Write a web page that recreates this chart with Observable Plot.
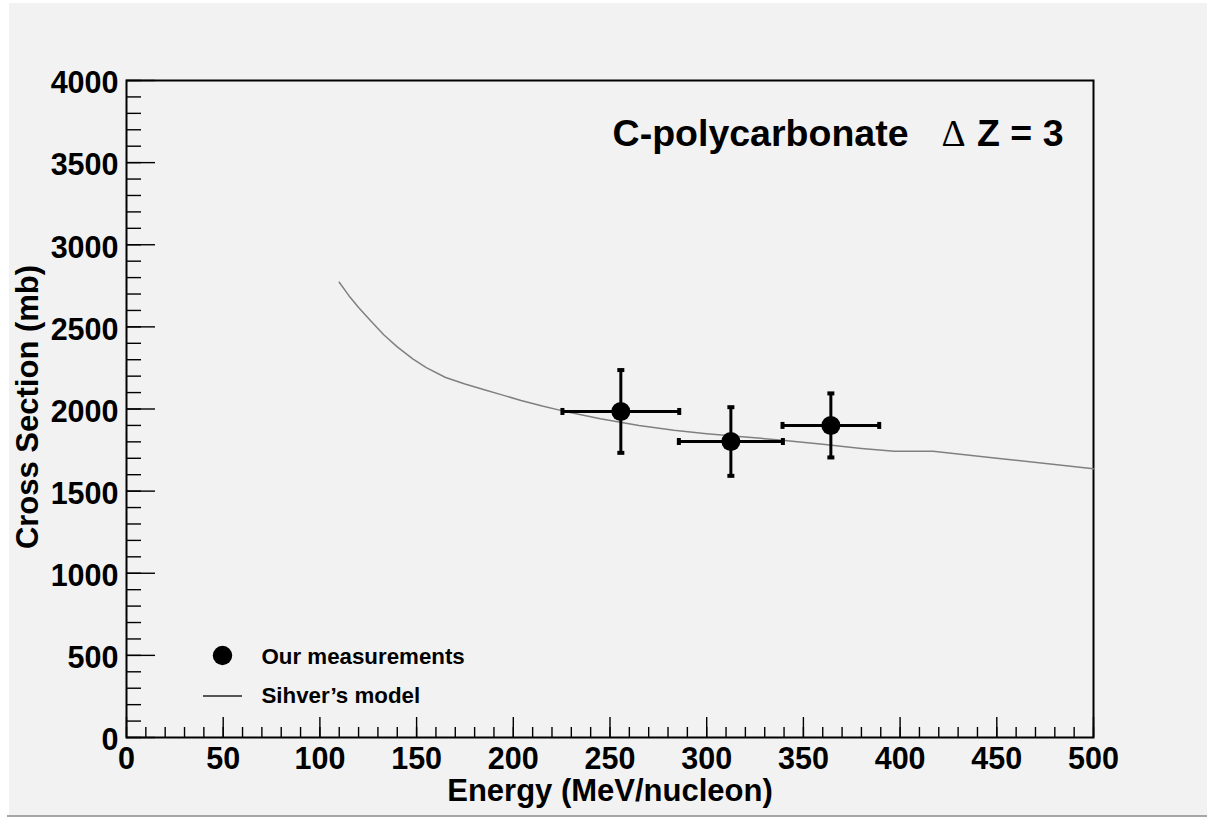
<!DOCTYPE html>
<html><head><meta charset="utf-8">
<script src="https://cdn.jsdelivr.net/npm/d3@7"></script>
<script src="https://cdn.jsdelivr.net/npm/@observablehq/plot@0.6"></script>
<style>
html,body{margin:0;padding:0;background:#fff;}
#canvas{position:absolute;left:9px;top:3px;width:1198px;height:812px;background:#f2f2f2;}
#edge{position:absolute;left:7px;top:815px;width:1200px;height:2px;background:#a6a6a6;}
</style></head><body>
<div id="canvas"></div><div id="edge"></div>
<script>
// Measurements
const energy = [255.6, 312.5, 364.2];
const energyErr = [30.2, 26.9, 25.0];
const crossSection = [1985, 1802, 1900];
const crossSectionErr = [252, 209, 195];

// Sihver's model curve
const modelEnergy = [110, 115, 120, 126, 133, 140, 148, 155, 165, 175, 185, 195, 204, 215, 225, 245, 265, 283, 300, 320, 339, 360, 380, 397, 417, 450, 500];
const modelCrossSection = [2772, 2690, 2618, 2540, 2452, 2378, 2305, 2252, 2192, 2152, 2117, 2083, 2052, 2018, 1990, 1940, 1900, 1870, 1850, 1830, 1810, 1785, 1760, 1743, 1743, 1700, 1636];

// Axes
const xTicks = [0, 50, 100, 150, 200, 250, 300, 350, 400, 450, 500];
const yTicks = [0, 500, 1000, 1500, 2000, 2500, 3000, 3500, 4000];
const xMinorTicks = d3.range(0, 501, 10);
const yMinorTicks = d3.range(0, 4001, 100);

const titleMain = "C-polycarbonate";
const titleDelta = "\u0394";
const titleRest = "Z = 3";
const xLabel = "Energy (MeV/nucleon)";
const yLabel = "Cross Section (mb)";
const legendLabels = ["Our measurements", "Sihver\u2019s model"];

const points = energy.map((x, i) => ({x, ex: energyErr[i], y: crossSection[i], ey: crossSectionErr[i]}));
const model = modelEnergy.map((x, i) => ({x, y: modelCrossSection[i]}));

const W = 1198, H = 812, mL = 117, mR = 114, mT = 77, mB = 78;
const fW = W - mL - mR, fH = H - mT - mB;
const FONT = "Liberation Sans, Arial, Helvetica, sans-serif";

const capTall = {draw(ctx) { ctx.rect(-2, -3.5, 4, 7); }};
const capWide = {draw(ctx) { ctx.rect(-3.5, -2, 7, 4); }};

const chart = Plot.plot({
  width: W, height: H,
  marginLeft: mL, marginRight: mR, marginTop: mT, marginBottom: mB,
  style: {background: "#f2f2f2", fontFamily: FONT, color: "black", overflow: "visible"},
  x: {domain: [0, 500]},
  y: {domain: [0, 4000]},
  marks: [
    Plot.tickY(yMinorTicks, {y: d => d, insetRight: fW - 15, stroke: "black", strokeWidth: 1.4}),
    Plot.tickY(yTicks, {y: d => d, insetRight: fW - 29, stroke: "black", strokeWidth: 1.4}),
    Plot.tickX(xMinorTicks, {x: d => d, insetTop: fH - 10, stroke: "black", strokeWidth: 1.4}),
    Plot.tickX(xTicks, {x: d => d, insetTop: fH - 20, stroke: "black", strokeWidth: 1.4}),
    Plot.frame({stroke: "black", strokeWidth: 2}),
    Plot.axisY(yTicks, {tickSize: 0, tickPadding: 8, dy: 3, fontSize: 30.5, fontWeight: "bold", fontFamily: FONT, label: null, tickFormat: d => String(d)}),
    Plot.axisX(xTicks, {tickSize: 0, tickPadding: 10, fontSize: 30.5, fontWeight: "bold", fontFamily: FONT, label: null, tickFormat: d => String(d)}),
    Plot.line(model, {x: "x", y: "y", stroke: "#808080", strokeWidth: 1.5}),
    Plot.ruleY(points, {y: "y", x1: d => d.x - d.ex, x2: d => d.x + d.ex, stroke: "black", strokeWidth: 3}),
    Plot.ruleX(points, {x: "x", y1: d => d.y - d.ey, y2: d => d.y + d.ey, stroke: "black", strokeWidth: 3}),
    Plot.dot(points, {x: d => d.x - d.ex, y: "y", symbol: capTall, fill: "black", stroke: null}),
    Plot.dot(points, {x: d => d.x + d.ex, y: "y", symbol: capTall, fill: "black", stroke: null}),
    Plot.dot(points, {x: "x", y: d => d.y + d.ey, symbol: capWide, fill: "black", stroke: null}),
    Plot.dot(points, {x: "x", y: d => d.y - d.ey, symbol: capWide, fill: "black", stroke: null}),
    Plot.dot(points, {x: "x", y: "y", r: 9.5, fill: "black", stroke: null}),
    // legend
    Plot.dot([legendLabels[0]], {frameAnchor: "bottom-left", dx: 96, dy: -82, r: 9.7, fill: "black", stroke: null}),
    (index, scales, values, dims) => {
      const y = dims.height - dims.marginBottom - 41;
      return d3.create("svg:line")
        .attr("x1", dims.marginLeft + 77).attr("x2", dims.marginLeft + 116)
        .attr("y1", y).attr("y2", y)
        .attr("stroke", "#222").attr("stroke-width", 1.5).node();
    },
    Plot.text([legendLabels[0]], {text: d => d, frameAnchor: "bottom-left", dx: 135, dy: -81, textAnchor: "start", lineAnchor: "middle", fontSize: 22.3, fontWeight: "bold", fontFamily: FONT}),
    Plot.text([legendLabels[1]], {text: d => d, frameAnchor: "bottom-left", dx: 135, dy: -41.5, textAnchor: "start", lineAnchor: "middle", fontSize: 22.3, fontWeight: "bold", fontFamily: FONT}),
    // axis titles
    Plot.text([xLabel], {text: d => d, frameAnchor: "bottom", dy: 54, textAnchor: "middle", lineAnchor: "middle", fontSize: 31, fontWeight: "bold", fontFamily: FONT}),
    Plot.text([yLabel], {text: d => d, frameAnchor: "left", dx: -98, dy: -2, rotate: -90, textAnchor: "middle", lineAnchor: "middle", fontSize: 31, fontWeight: "bold", fontFamily: FONT}),
    // title
    Plot.text([titleMain], {text: d => d, frameAnchor: "top-right", dx: -185, dy: 53, textAnchor: "end", lineAnchor: "middle", fontSize: 37.5, fontWeight: "bold", fontFamily: FONT}),
    Plot.text([titleDelta], {text: d => d, frameAnchor: "top-right", dx: -128, dy: 53, textAnchor: "end", lineAnchor: "middle", fontSize: 37.5, fontWeight: "normal", fontFamily: "Liberation Serif, DejaVu Serif, serif"}),
    Plot.text([titleRest], {text: d => d, frameAnchor: "top-right", dx: -30, dy: 53, textAnchor: "end", lineAnchor: "middle", fontSize: 37.5, fontWeight: "bold", fontFamily: FONT})
  ]
});
document.getElementById("canvas").appendChild(chart);
</script>
</body></html>
